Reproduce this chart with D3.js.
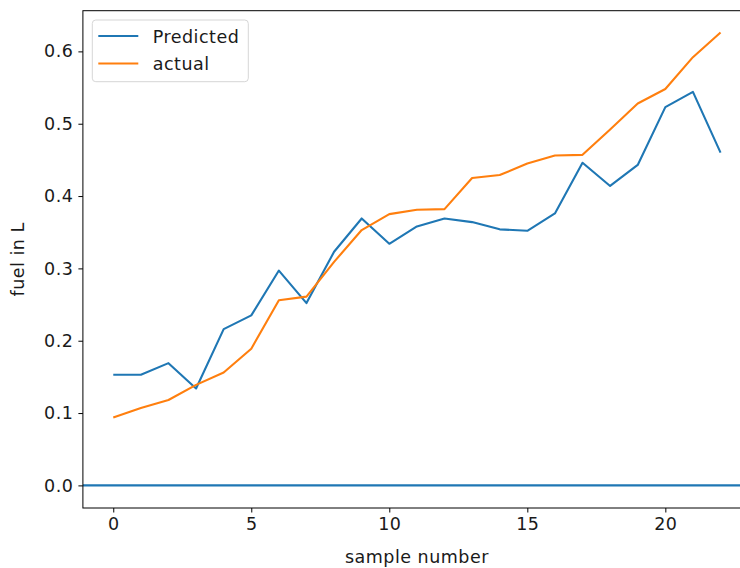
<!DOCTYPE html>
<html><head><meta charset="utf-8">
<script src="https://cdn.jsdelivr.net/npm/d3@7"></script>
<style>body{margin:0;background:#fff}svg{display:block}text{font-family:"DejaVu Sans",sans-serif}</style>
</head><body>
<svg id="c" width="740" height="568"></svg>
<script>
const samples = d3.range(0, 23);
const predicted = [0.153,0.153,0.169,0.134,0.216,0.235,0.297,0.252,0.323,0.369,0.334,0.358,0.369,0.364,0.354,0.352,0.376,0.446,0.414,0.443,0.523,0.544,0.460];
const actual = [0.094,0.107,0.118,0.139,0.156,0.189,0.256,0.261,0.309,0.353,0.375,0.381,0.382,0.425,0.429,0.445,0.456,0.457,0.492,0.528,0.548,0.592,0.626];
const baseline = [0.0];
const xTicks = [0,5,10,15,20];
const yTicks = [0.0,0.1,0.2,0.3,0.4,0.5,0.6];
const seriesNames = ["Predicted","actual"];
const colors = ["#1f77b4","#ff7f0e"];

const svg = d3.select("#c");
const L = 82.9, R = 750.9, T = 10.7, B = 508;
const x = d3.scaleLinear().domain([-1.1, 23.1]).range([L, R]);
const y = d3.scaleLinear().domain([-0.03125, 0.65625]).range([B, T]);
const fs = 17.5, ls = 0.5;

svg.append("defs").append("clipPath").attr("id","clip")
  .append("rect").attr("x",L).attr("y",T).attr("width",R-L).attr("height",B-T);

const g = svg.append("g").attr("clip-path","url(#clip)");
const line = d3.line().x((d,i)=>x(samples[i])).y(d=>y(d));
g.append("path").datum(predicted).attr("d",line).attr("fill","none").attr("stroke",colors[0]).attr("stroke-width",2.1).attr("stroke-linejoin","round");
g.append("path").datum(actual).attr("d",line).attr("fill","none").attr("stroke",colors[1]).attr("stroke-width",2.1).attr("stroke-linejoin","round");
g.selectAll(".hl").data(baseline).enter().append("line")
  .attr("x1",L).attr("x2",R).attr("y1",d=>y(d)).attr("y2",d=>y(d))
  .attr("stroke",colors[0]).attr("stroke-width",2.1);

// axes
const xa = svg.append("g").attr("transform",`translate(0,${B})`)
  .call(d3.axisBottom(x).tickValues(xTicks).tickFormat(d3.format("d")).tickSize(4.5).tickPadding(5));
const ya = svg.append("g").attr("transform",`translate(${L},0)`)
  .call(d3.axisLeft(y).tickValues(yTicks).tickFormat(d3.format(".1f")).tickSize(4.5).tickPadding(5));
[xa,ya].forEach(a=>{
  a.select(".domain").remove();
  a.selectAll("line").attr("stroke","#000").attr("stroke-width",1);
  a.selectAll("text").attr("font-size",fs).attr("letter-spacing",ls).attr("fill","#1a1a1a").attr("font-family","DejaVu Sans");
});
// spines
svg.append("rect").attr("x",L).attr("y",T).attr("width",R-L).attr("height",B-T)
  .attr("fill","none").attr("stroke","#000").attr("stroke-width",1);

svg.append("text").attr("x",(L+R)/2).attr("y",563).attr("text-anchor","middle").attr("font-size",fs).attr("letter-spacing",ls).attr("fill","#1a1a1a").text("sample number");
svg.append("text").attr("transform",`translate(24,${(T+B)/2}) rotate(-90)`).attr("text-anchor","middle").attr("font-size",fs).attr("letter-spacing",ls).attr("fill","#1a1a1a").text("fuel in L");

// legend
const lg = svg.append("g");
lg.append("rect").attr("x",92.3).attr("y",20).attr("width",156).attr("height",61.7).attr("rx",3.5)
  .attr("fill","#fff").attr("fill-opacity",0.8).attr("stroke","#d6d6d6").attr("stroke-width",1);
seriesNames.forEach((n,i)=>{
  const yy = 36 + i*27.5;
  lg.append("line").attr("x1",98.3).attr("x2",138.3).attr("y1",yy).attr("y2",yy).attr("stroke",colors[i]).attr("stroke-width",2.1);
  lg.append("text").attr("x",152.7).attr("y",yy+6.5).attr("font-size",fs).attr("letter-spacing",ls).attr("fill","#1a1a1a").text(n);
});
</script>
</body></html>
